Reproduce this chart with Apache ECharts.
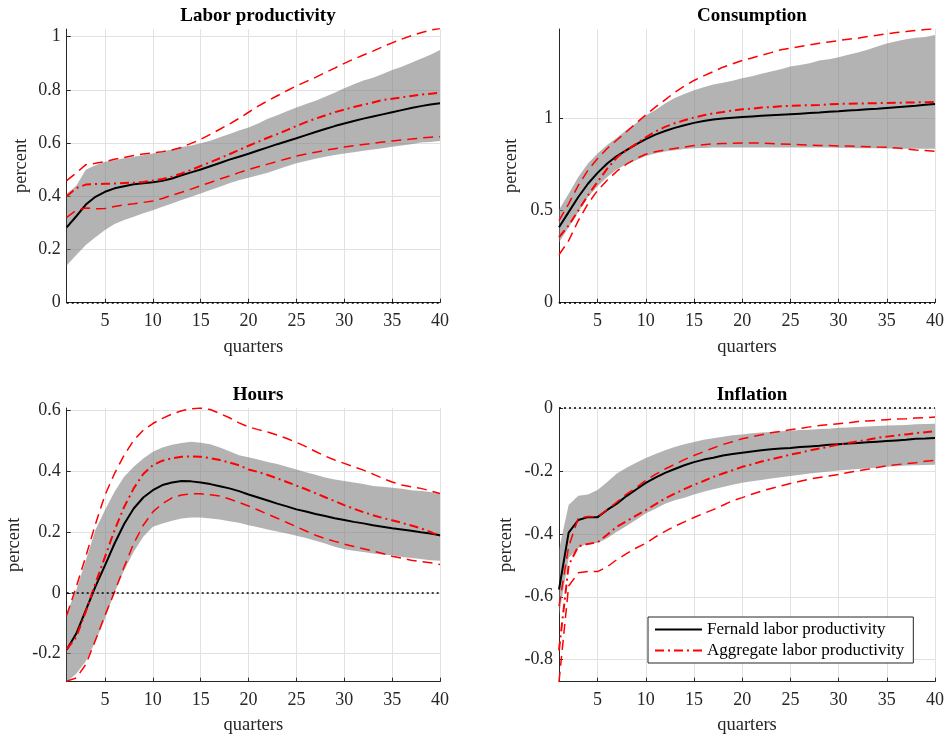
<!DOCTYPE html>
<html>
<head>
<meta charset="utf-8">
<script src="https://cdn.jsdelivr.net/npm/echarts/dist/echarts.min.js"></script>
<style>
  html, body { margin: 0; padding: 0; background: #fff; }
  #chart { width: 947px; height: 738px; }
</style>
</head>
<body>
<div id="chart"></div>
<script>
// quarters after the shock
const quarters = ['1', '2', '3', '4', '5', '6', '7', '8', '9', '10', '11', '12', '13', '14', '15', '16', '17', '18', '19', '20',
  '21', '22', '23', '24', '25', '26', '27', '28', '29', '30', '31', '32', '33', '34', '35', '36', '37', '38', '39', '40'];
const xTickLabels = ['5', '10', '15', '20', '25', '30', '35', '40'];

// Labor productivity
const lpFernald = [0.283, 0.325, 0.369, 0.398, 0.417, 0.43, 0.438, 0.445, 0.449, 0.453, 0.458, 0.467, 0.479, 0.49, 0.501, 0.513, 0.525, 0.538, 0.549, 0.56, 0.572, 0.584, 0.596, 0.607, 0.618, 0.63, 0.642, 0.653, 0.664, 0.674, 0.683, 0.692, 0.7, 0.708, 0.716, 0.724, 0.732, 0.739, 0.745, 0.75];
const lpBandHi = [0.41, 0.44, 0.5, 0.517, 0.53, 0.536, 0.543, 0.549, 0.554, 0.561, 0.568, 0.576, 0.585, 0.591, 0.599, 0.609, 0.622, 0.634, 0.647, 0.659, 0.674, 0.692, 0.705, 0.72, 0.734, 0.747, 0.759, 0.774, 0.789, 0.806, 0.821, 0.835, 0.846, 0.86, 0.875, 0.887, 0.902, 0.917, 0.932, 0.95];
const lpBandLo = [0.14, 0.179, 0.217, 0.246, 0.273, 0.296, 0.311, 0.323, 0.336, 0.348, 0.361, 0.373, 0.386, 0.398, 0.411, 0.424, 0.436, 0.449, 0.46, 0.47, 0.479, 0.489, 0.501, 0.513, 0.524, 0.533, 0.541, 0.549, 0.555, 0.561, 0.566, 0.571, 0.576, 0.581, 0.586, 0.591, 0.596, 0.602, 0.604, 0.608];
const lpAgg = [0.4, 0.431, 0.444, 0.446, 0.447, 0.448, 0.45, 0.451, 0.454, 0.459, 0.465, 0.474, 0.486, 0.499, 0.514, 0.528, 0.543, 0.558, 0.574, 0.59, 0.605, 0.62, 0.634, 0.649, 0.664, 0.679, 0.692, 0.704, 0.716, 0.726, 0.736, 0.744, 0.753, 0.762, 0.767, 0.772, 0.777, 0.782, 0.786, 0.789];
const lpAggHi = [0.459, 0.488, 0.519, 0.524, 0.53, 0.539, 0.546, 0.553, 0.559, 0.563, 0.568, 0.574, 0.584, 0.599, 0.614, 0.633, 0.652, 0.672, 0.693, 0.716, 0.739, 0.759, 0.778, 0.797, 0.815, 0.831, 0.847, 0.865, 0.882, 0.9, 0.916, 0.931, 0.946, 0.962, 0.977, 0.991, 1.004, 1.015, 1.025, 1.031];
const lpAggLo = [0.321, 0.347, 0.356, 0.353, 0.354, 0.362, 0.368, 0.372, 0.377, 0.382, 0.392, 0.404, 0.415, 0.427, 0.44, 0.452, 0.465, 0.476, 0.489, 0.501, 0.511, 0.521, 0.531, 0.541, 0.551, 0.559, 0.566, 0.573, 0.579, 0.585, 0.59, 0.595, 0.599, 0.604, 0.608, 0.612, 0.615, 0.619, 0.622, 0.624];

// Consumption
const cFernald = [0.409, 0.491, 0.573, 0.645, 0.704, 0.755, 0.795, 0.827, 0.858, 0.887, 0.911, 0.931, 0.948, 0.962, 0.975, 0.985, 0.993, 0.999, 1.003, 1.007, 1.01, 1.013, 1.016, 1.019, 1.022, 1.025, 1.028, 1.031, 1.035, 1.038, 1.042, 1.045, 1.049, 1.052, 1.056, 1.06, 1.064, 1.068, 1.073, 1.078];
const cBandHi = [0.504, 0.591, 0.682, 0.755, 0.809, 0.855, 0.895, 0.936, 0.973, 1.015, 1.045, 1.08, 1.11, 1.132, 1.152, 1.168, 1.183, 1.193, 1.204, 1.217, 1.228, 1.241, 1.253, 1.266, 1.28, 1.289, 1.298, 1.313, 1.32, 1.331, 1.344, 1.356, 1.371, 1.389, 1.405, 1.418, 1.429, 1.436, 1.441, 1.452];
const cBandLo = [0.327, 0.409, 0.491, 0.573, 0.631, 0.682, 0.722, 0.751, 0.773, 0.795, 0.809, 0.82, 0.827, 0.833, 0.837, 0.839, 0.841, 0.841, 0.841, 0.841, 0.841, 0.841, 0.841, 0.841, 0.841, 0.841, 0.841, 0.841, 0.841, 0.84, 0.839, 0.838, 0.837, 0.837, 0.836, 0.836, 0.835, 0.835, 0.835, 0.835];
const cAgg = [0.355, 0.418, 0.5, 0.582, 0.655, 0.727, 0.787, 0.827, 0.861, 0.897, 0.928, 0.953, 0.973, 0.989, 1.004, 1.016, 1.027, 1.034, 1.042, 1.049, 1.052, 1.058, 1.061, 1.065, 1.067, 1.069, 1.071, 1.072, 1.076, 1.078, 1.079, 1.08, 1.081, 1.082, 1.083, 1.084, 1.085, 1.086, 1.087, 1.089];
const cAggHi = [0.445, 0.536, 0.636, 0.718, 0.782, 0.836, 0.882, 0.927, 0.973, 1.018, 1.06, 1.1, 1.14, 1.175, 1.205, 1.23, 1.253, 1.277, 1.295, 1.313, 1.327, 1.342, 1.356, 1.371, 1.38, 1.389, 1.398, 1.407, 1.414, 1.421, 1.429, 1.434, 1.443, 1.45, 1.458, 1.465, 1.47, 1.476, 1.481, 1.486];
const cAggLo = [0.26, 0.336, 0.445, 0.536, 0.609, 0.664, 0.713, 0.751, 0.782, 0.805, 0.818, 0.828, 0.836, 0.844, 0.852, 0.857, 0.861, 0.863, 0.864, 0.866, 0.866, 0.865, 0.863, 0.861, 0.859, 0.857, 0.855, 0.853, 0.852, 0.85, 0.849, 0.848, 0.846, 0.844, 0.843, 0.839, 0.834, 0.828, 0.825, 0.821];

// Hours
const hFernald = [-0.187, -0.134, -0.057, 0.02, 0.09, 0.162, 0.226, 0.277, 0.313, 0.337, 0.354, 0.362, 0.367, 0.366, 0.362, 0.357, 0.35, 0.343, 0.334, 0.323, 0.313, 0.303, 0.293, 0.284, 0.274, 0.267, 0.259, 0.252, 0.245, 0.239, 0.233, 0.228, 0.222, 0.217, 0.212, 0.208, 0.204, 0.199, 0.195, 0.189];
const hBandHi = [-0.068, 0.009, 0.107, 0.206, 0.272, 0.332, 0.381, 0.414, 0.441, 0.463, 0.477, 0.486, 0.492, 0.496, 0.493, 0.488, 0.477, 0.465, 0.452, 0.445, 0.438, 0.43, 0.423, 0.414, 0.405, 0.396, 0.388, 0.379, 0.372, 0.367, 0.362, 0.357, 0.351, 0.348, 0.345, 0.342, 0.337, 0.334, 0.331, 0.326];
const hBandLo = [-0.293, -0.266, -0.225, -0.16, -0.085, 0, 0.074, 0.135, 0.184, 0.217, 0.228, 0.237, 0.244, 0.247, 0.247, 0.244, 0.241, 0.235, 0.23, 0.222, 0.215, 0.208, 0.201, 0.195, 0.187, 0.18, 0.171, 0.162, 0.151, 0.143, 0.138, 0.134, 0.129, 0.126, 0.123, 0.118, 0.114, 0.111, 0.107, 0.105];
const hAgg = [-0.186, -0.145, -0.062, 0.031, 0.118, 0.206, 0.282, 0.343, 0.39, 0.419, 0.434, 0.442, 0.447, 0.448, 0.447, 0.442, 0.436, 0.428, 0.419, 0.405, 0.397, 0.387, 0.376, 0.364, 0.352, 0.34, 0.327, 0.314, 0.301, 0.288, 0.276, 0.265, 0.255, 0.246, 0.238, 0.23, 0.221, 0.212, 0.2, 0.186];
const hAggHi = [-0.074, 0.02, 0.12, 0.225, 0.321, 0.392, 0.452, 0.501, 0.534, 0.556, 0.573, 0.587, 0.598, 0.604, 0.607, 0.602, 0.589, 0.575, 0.558, 0.545, 0.536, 0.528, 0.518, 0.507, 0.494, 0.48, 0.464, 0.449, 0.436, 0.425, 0.414, 0.403, 0.39, 0.376, 0.364, 0.354, 0.348, 0.343, 0.335, 0.326];
const hAggLo = [-0.29, -0.28, -0.235, -0.156, -0.074, 0.003, 0.085, 0.162, 0.222, 0.266, 0.293, 0.312, 0.321, 0.325, 0.325, 0.322, 0.318, 0.308, 0.297, 0.285, 0.272, 0.258, 0.245, 0.231, 0.217, 0.203, 0.189, 0.178, 0.169, 0.16, 0.152, 0.145, 0.137, 0.129, 0.12, 0.114, 0.107, 0.103, 0.099, 0.093];

// Inflation
const iFernald = [-0.577, -0.396, -0.356, -0.347, -0.347, -0.324, -0.304, -0.28, -0.259, -0.238, -0.221, -0.206, -0.194, -0.182, -0.172, -0.164, -0.158, -0.151, -0.146, -0.142, -0.138, -0.134, -0.131, -0.129, -0.127, -0.124, -0.122, -0.12, -0.117, -0.115, -0.113, -0.111, -0.109, -0.107, -0.105, -0.103, -0.101, -0.098, -0.097, -0.095];
const iBandHi = [-0.45, -0.308, -0.279, -0.275, -0.261, -0.235, -0.208, -0.19, -0.174, -0.159, -0.146, -0.134, -0.124, -0.115, -0.108, -0.101, -0.096, -0.091, -0.087, -0.084, -0.08, -0.078, -0.076, -0.074, -0.072, -0.07, -0.069, -0.067, -0.066, -0.063, -0.062, -0.06, -0.059, -0.057, -0.056, -0.055, -0.054, -0.052, -0.051, -0.05];
const iBandLo = [-0.661, -0.477, -0.445, -0.429, -0.429, -0.414, -0.393, -0.375, -0.355, -0.335, -0.32, -0.304, -0.293, -0.285, -0.275, -0.266, -0.258, -0.251, -0.244, -0.238, -0.233, -0.229, -0.224, -0.22, -0.216, -0.212, -0.208, -0.205, -0.202, -0.199, -0.196, -0.194, -0.192, -0.189, -0.187, -0.185, -0.183, -0.182, -0.181, -0.18];
const iAgg = [-0.77, -0.5, -0.44, -0.432, -0.427, -0.403, -0.377, -0.36, -0.342, -0.325, -0.306, -0.288, -0.272, -0.258, -0.244, -0.232, -0.219, -0.208, -0.198, -0.187, -0.179, -0.17, -0.163, -0.156, -0.148, -0.142, -0.135, -0.129, -0.123, -0.116, -0.111, -0.106, -0.101, -0.095, -0.091, -0.087, -0.084, -0.08, -0.077, -0.074];
const iAggHi = [-0.63, -0.44, -0.35, -0.345, -0.346, -0.323, -0.299, -0.274, -0.253, -0.23, -0.211, -0.194, -0.179, -0.164, -0.151, -0.139, -0.127, -0.116, -0.107, -0.098, -0.091, -0.085, -0.079, -0.074, -0.069, -0.065, -0.06, -0.056, -0.053, -0.05, -0.047, -0.043, -0.041, -0.039, -0.037, -0.035, -0.034, -0.032, -0.031, -0.029];
const iAggLo = [-0.87, -0.566, -0.524, -0.52, -0.52, -0.505, -0.482, -0.463, -0.445, -0.43, -0.41, -0.392, -0.376, -0.362, -0.348, -0.335, -0.323, -0.309, -0.295, -0.285, -0.274, -0.264, -0.256, -0.248, -0.24, -0.233, -0.226, -0.221, -0.216, -0.211, -0.205, -0.2, -0.195, -0.189, -0.184, -0.18, -0.177, -0.174, -0.169, -0.166];

const FONT = '"Liberation Serif", "DejaVu Serif", serif';
const AXIS_COLOR = '#262626';
const GRID_COLOR = '#e2e2e2';

const panels = [
  { title: 'Labor productivity', fern: lpFernald, hi: lpBandHi, lo: lpBandLo, agg: lpAgg, aggHi: lpAggHi, aggLo: lpAggLo,
    min: 0, max: 1.029, yTicks: [0, 0.2, 0.4, 0.6, 0.8, 1], nameGapY: 36, nameGapX: 35 },
  { title: 'Consumption', fern: cFernald, hi: cBandHi, lo: cBandLo, agg: cAgg, aggHi: cAggHi, aggLo: cAggLo,
    min: 0, max: 1.484, yTicks: [0, 0.5, 1], nameGapY: 38, nameGapX: 35 },
  { title: 'Hours', fern: hFernald, hi: hBandHi, lo: hBandLo, agg: hAgg, aggHi: hAggHi, aggLo: hAggLo,
    min: -0.292, max: 0.607, yTicks: [-0.2, 0, 0.2, 0.4, 0.6], nameGapY: 43, nameGapX: 34 },
  { title: 'Inflation', fern: iFernald, hi: iBandHi, lo: iBandLo, agg: iAgg, aggHi: iAggHi, aggLo: iAggLo,
    min: -0.87, max: 0, yTicks: [-0.8, -0.6, -0.4, -0.2, 0], nameGapY: 43, nameGapX: 34 },
];

const grids = [
  { left: 66.7, top: 29, width: 373.3, height: 273.7 },
  { left: 559, top: 29, width: 376, height: 273.7 },
  { left: 66.7, top: 408, width: 373.3, height: 273.7 },
  { left: 559, top: 408, width: 376, height: 273.7 },
];
const titlePos = [[253, 2], [747, 2], [253, 381], [747, 381]];

function fmt(v) {
  return String(parseFloat(Number(v).toFixed(2)));
}
function onTick(index, value) {
  return xTickLabels.indexOf(String(value)) !== -1;
}

const xAxes = [];
const yAxes = [];
const series = [];
const titles = [];

panels.forEach((p, gi) => {
  titles.push({
    text: p.title,
    left: titlePos[gi][0],
    top: titlePos[gi][1],
    textAlign: 'center',
    textStyle: { fontFamily: FONT, fontSize: 19, fontWeight: 'bold', color: '#000' },
  });
  xAxes.push({
    type: 'category',
    gridIndex: gi,
    data: quarters,
    boundaryGap: false,
    name: 'quarters',
    nameLocation: 'middle',
    nameGap: p.nameGapX,
    nameTextStyle: { fontFamily: FONT, fontSize: 18.5, color: AXIS_COLOR },
    axisLine: { show: true, onZero: false, lineStyle: { color: AXIS_COLOR, width: 1 } },
    axisTick: { show: true, inside: true, length: 4, interval: onTick, lineStyle: { color: AXIS_COLOR } },
    axisLabel: { interval: onTick, margin: 10, fontFamily: FONT, fontSize: 18, color: AXIS_COLOR },
    splitLine: { show: true, interval: onTick, lineStyle: { color: GRID_COLOR, width: 1 } },
  });
  yAxes.push({
    type: 'value',
    gridIndex: gi,
    min: p.min,
    max: p.max,
    name: 'percent',
    nameLocation: 'middle',
    nameRotate: 90,
    nameGap: p.nameGapY,
    nameTextStyle: { fontFamily: FONT, fontSize: 18.5, color: AXIS_COLOR },
    axisLine: { show: true, onZero: false, lineStyle: { color: AXIS_COLOR, width: 1 } },
    axisTick: { show: true, inside: true, length: 4, customValues: p.yTicks, lineStyle: { color: AXIS_COLOR } },
    axisLabel: { customValues: p.yTicks, margin: 6, fontFamily: FONT, fontSize: 18, color: AXIS_COLOR, formatter: fmt },
    splitLine: { show: true, lineStyle: { color: GRID_COLOR, width: 1 } },
  });

  const stackId = 'band' + gi;
  // shaded band for the Fernald response: lower edge + stacked width
  series.push({
    name: 'band-lo-' + gi,
    type: 'line',
    xAxisIndex: gi,
    yAxisIndex: gi,
    stack: stackId,
    stackStrategy: 'all',
    data: p.lo,
    symbol: 'none',
    lineStyle: { opacity: 0 },
    silent: true,
    z: 1,
  });
  series.push({
    name: 'band-hi-' + gi,
    type: 'line',
    xAxisIndex: gi,
    yAxisIndex: gi,
    stack: stackId,
    stackStrategy: 'all',
    data: p.hi.map((v, i) => v - p.lo[i]),
    symbol: 'none',
    lineStyle: { opacity: 0 },
    areaStyle: { color: 'rgba(128,128,128,0.6)', opacity: 1 },
    silent: true,
    z: 1,
  });
  series.push({
    name: 'Fernald labor productivity',
    type: 'line',
    xAxisIndex: gi,
    yAxisIndex: gi,
    data: p.fern,
    symbol: 'none',
    lineStyle: { color: '#000', width: 2 },
    itemStyle: { color: '#000' },
    z: 3,
    markLine: {
      silent: true,
      symbol: 'none',
      label: { show: false },
      lineStyle: { color: '#000', type: [2, 3], width: 1.5 },
      data: [{ yAxis: 0 }],
    },
  });
  series.push({
    name: 'Aggregate labor productivity',
    type: 'line',
    xAxisIndex: gi,
    yAxisIndex: gi,
    data: p.agg,
    symbol: 'none',
    lineStyle: { color: '#ff0000', width: 2, type: [9, 4, 2, 4] },
    itemStyle: { color: '#ff0000' },
    z: 4,
  });
  series.push({
    name: 'agg-hi-' + gi,
    type: 'line',
    xAxisIndex: gi,
    yAxisIndex: gi,
    data: p.aggHi,
    symbol: 'none',
    lineStyle: { color: '#ff0000', width: 1.5, type: [10, 6] },
    z: 4,
  });
  series.push({
    name: 'agg-lo-' + gi,
    type: 'line',
    xAxisIndex: gi,
    yAxisIndex: gi,
    data: p.aggLo,
    symbol: 'none',
    lineStyle: { color: '#ff0000', width: 1.5, type: [10, 6] },
    z: 4,
  });
});

const chart = echarts.init(document.getElementById('chart'), null, { renderer: 'canvas' });
chart.setOption({
  animation: false,
  backgroundColor: '#fff',
  title: titles,
  grid: grids,
  xAxis: xAxes,
  yAxis: yAxes,
  legend: {
    data: ['Fernald labor productivity', 'Aggregate labor productivity'],
    orient: 'vertical',
    left: 648,
    top: 617,
    itemWidth: 47,
    itemHeight: 14,
    itemGap: 4,
    padding: [4, 9, 4, 6],
    selectedMode: false,
    backgroundColor: '#fff',
    borderColor: AXIS_COLOR,
    borderWidth: 1,
    borderRadius: 0,
    itemStyle: { opacity: 0 },
    textStyle: { fontFamily: FONT, fontSize: 17, color: '#000' },
  },
  series: series,
});
</script>
</body>
</html>
